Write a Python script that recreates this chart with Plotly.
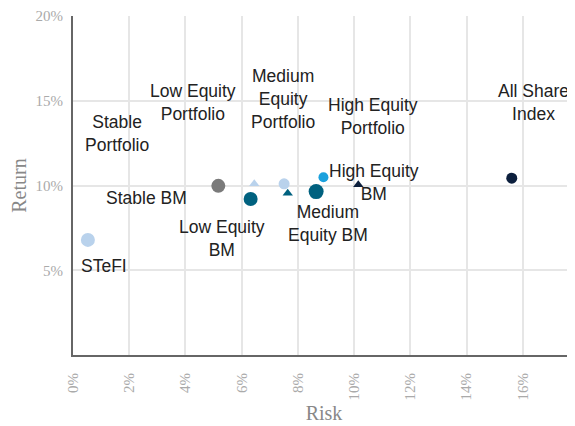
import plotly.graph_objects as go

# Data (risk %, return %)
names = ["STeFI", "Stable BM", "Stable Portfolio", "Low Equity BM", "Low Equity Portfolio",
         "Medium Equity Portfolio", "Medium Equity BM", "High Equity Portfolio",
         "High Equity BM", "All Share Index"]
risk = [0.53, 5.17, 6.45, 6.32, 7.51, 7.64, 8.65, 8.91, 10.15, 15.61]
ret = [6.79, 9.98, 10.10, 9.20, 10.10, 9.54, 9.64, 10.49, 10.04, 10.43]

# styling per point
symbols = ["circle", "circle", "triangle-up", "circle", "circle", "triangle-up", "circle",
           "circle", "triangle-up", "circle"]
colors = ["#b9d2ec", "#7a7a7a", "#b9d2ec", "#00617f", "#b9d2ec", "#00617f", "#00617f",
          "#1ba1dd", "#0c1f3d", "#0c1f3d"]
sizes = [14, 14, 9, 14, 11, 9, 15, 10, 9, 11]

# label texts and their anchor points
label_text = ["STeFI", "Stable BM", "Stable<br>Portfolio", "Low Equity<br>BM",
              "Low Equity<br>Portfolio", "Medium<br>Equity<br>Portfolio",
              "Medium<br>Equity BM", "High Equity<br>Portfolio",
              "High Equity<br>BM", "All Share<br>Index"]
label_x = [1.1, 2.63, 1.57, 5.3, 4.27, 7.47, 9.07, 10.68, 10.71, 16.4]
label_y = [5.25, 9.27, 13.05, 6.85, 14.9, 15.1, 7.73, 14.05, 10.15, 14.9]

x_ticks = [0, 2, 4, 6, 8, 10, 12, 14, 16]
y_ticks = [5, 10, 15, 20]

fig = go.Figure()
for i in range(len(names)):
    fig.add_trace(go.Scatter(
        x=[risk[i]], y=[ret[i]], mode="markers", name=names[i],
        marker=dict(symbol=symbols[i], color=colors[i], size=sizes[i], line=dict(width=0)),
        showlegend=False,
    ))

for t, lx, ly in zip(label_text, label_x, label_y):
    fig.add_annotation(x=lx, y=ly, text=t, showarrow=False, xref="x", yref="y",
                       font=dict(family="Liberation Sans, Arial, sans-serif", size=17.5, color="#222"),
                       align="center")

tickfont = dict(family="Liberation Serif, serif", size=15, color="#aaaaaa")
titlefont = dict(family="Liberation Serif, serif", size=20, color="#888")
# the page body has an 8px margin, so the figure is sized to fill the rest of the window
fig.update_layout(
    width=567, height=418,
    margin=dict(l=65, r=0, t=8, b=71),
    plot_bgcolor="white", paper_bgcolor="white",
    xaxis=dict(range=[0, 17.86], tickvals=x_ticks, ticktext=[f"{v}%" for v in x_ticks],
               tickangle=-90, tickfont=tickfont, showgrid=True, gridcolor="#e6e6e6", gridwidth=2,
               showline=True, linecolor="#666", linewidth=2, zeroline=False, ticks="",
               ticklabelstandoff=10, automargin=False,
               title=dict(text="Risk", font=titlefont, standoff=6)),
    yaxis=dict(range=[0, 20], tickvals=y_ticks, ticktext=[f"{v}%" for v in y_ticks],
               tickfont=tickfont, showgrid=True, gridcolor="#e6e6e6", gridwidth=2,
               showline=True, linecolor="#666", linewidth=2, zeroline=False, ticks="",
               ticklabelstandoff=5, automargin=False,
               title=dict(text="Return", font=titlefont, standoff=6)),
)
fig.write_html("out.html")
